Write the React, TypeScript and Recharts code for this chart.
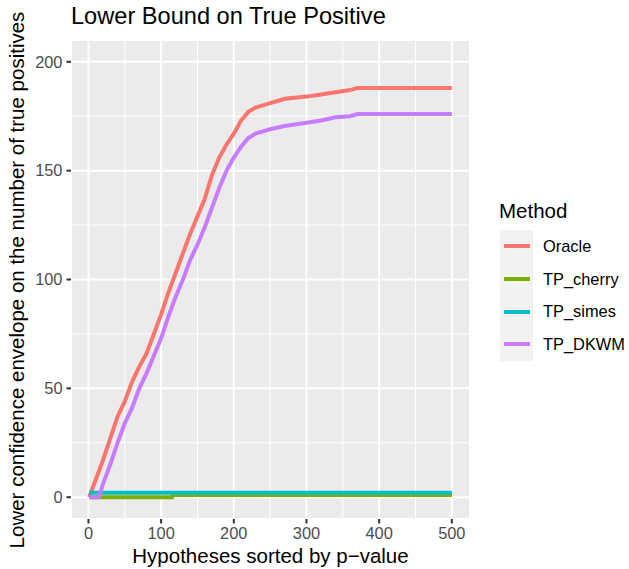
import { LineChart, Line, XAxis, YAxis, CartesianGrid } from 'recharts';

// hypothesis index / lower bound pairs
const oracleX = [1, 10, 20, 30, 40, 50, 60, 70, 80, 90, 100, 110, 120, 130, 140, 150, 160, 170, 180, 190, 200, 210, 220, 230, 240, 250, 260, 270, 300, 320, 340, 360, 370, 500];
const oracleY = [0, 8, 17, 27, 37, 44, 53, 60, 66, 75, 84, 94, 103, 112, 121, 129, 137, 148, 156, 162, 167, 173, 177, 179, 180, 181, 182, 183, 184, 185, 186, 187, 188, 188];

const dkwmX = [1, 14, 20, 30, 40, 50, 60, 70, 80, 90, 100, 110, 120, 130, 140, 150, 160, 170, 180, 190, 200, 210, 220, 230, 250, 270, 300, 320, 340, 360, 370, 500];
const dkwmY = [0, 0, 6, 15, 25, 34, 41, 50, 57, 65, 73, 83, 92, 100, 109, 116, 124, 133, 142, 150, 156, 161, 165, 167, 169, 170.5, 172, 173, 174.5, 175, 176, 176];

const cherryX = [1, 115, 116, 500];
const cherryY = [0, 0, 1, 1];

const simesX = [1, 500];
const simesY = [2, 2];

const xTicks = [0, 100, 200, 300, 400, 500];
const yTicks = [0, 50, 100, 150, 200];
const xMinor = [50, 150, 250, 350, 450];
const yMinor = [25, 75, 125, 175];

const METHODS = ['Oracle', 'TP_cherry', 'TP_simes', 'TP_DKWM'];
const COLORS = ['#F8766D', '#7CAE00', '#00BFC4', '#C77CFF'];

const toPoints = (xs: number[], ys: number[]) => xs.map((x, i) => ({ x, y: ys[i] }));

const series = [
  toPoints(oracleX, oracleY),
  toPoints(cherryX, cherryY),
  toPoints(simesX, simesY),
  toPoints(dkwmX, dkwmY),
];

const FONT = '"Liberation Sans", Arial, Helvetica, sans-serif';

function MethodLegend() {
  return (
    <div style={{ position: 'absolute', left: 500, top: 199, fontFamily: FONT, color: '#000' }}>
      <div style={{ fontSize: 20.5, height: 31, lineHeight: '24px', marginLeft: -1 }}>Method</div>
      {METHODS.map((name, i) => (
        <div key={name} style={{ display: 'flex', alignItems: 'center', height: 32.7 }}>
          <div
            style={{
              width: 33,
              height: 32.7,
              background: '#F2F2F2',
              display: 'flex',
              alignItems: 'center',
              justifyContent: 'center',
            }}
          >
            <div style={{ width: 26, height: 4, background: COLORS[i] }} />
          </div>
          <span style={{ fontSize: 16.4, marginLeft: 10 }}>{name}</span>
        </div>
      ))}
    </div>
  );
}

export default function App() {
  const tick = { fontSize: 16.4, fill: '#4D4D4D', fontFamily: FONT };
  return (
    <div style={{ position: 'absolute', left: 0, top: 0, width: 629, height: 569, background: '#fff' }}>
      <div
        style={{
          position: 'absolute',
          left: 71,
          top: 3,
          fontSize: 23.6,
          fontFamily: FONT,
          color: '#000',
          whiteSpace: 'nowrap',
        }}
      >
        Lower Bound on True Positive
      </div>
      <div
        style={{
          position: 'absolute',
          left: 17,
          top: 280,
          transform: 'translate(-50%, -50%) rotate(-90deg)',
          fontSize: 20.5,
          fontFamily: FONT,
          color: '#000',
          whiteSpace: 'nowrap',
        }}
      >
        Lower confidence envelope on the number of true positives
      </div>
      <div
        style={{
          position: 'absolute',
          left: 270.5,
          top: 556,
          transform: 'translate(-50%, -50%)',
          fontSize: 20.5,
          fontFamily: FONT,
          color: '#000',
          whiteSpace: 'nowrap',
        }}
      >
        Hypotheses sorted by p−value
      </div>
      <MethodLegend />
      <LineChart width={629} height={569} margin={{ top: 40, right: 159, left: 0, bottom: 0 }}>
        <CartesianGrid fill="#EBEBEB" stroke="#FFFFFF" strokeWidth={2} />
        <CartesianGrid
          fill="none"
          stroke="#FFFFFF"
          strokeWidth={1}
          verticalValues={xMinor}
          horizontalValues={yMinor}
        />
        <XAxis
          dataKey="x"
          type="number"
          domain={[-24, 525]}
          ticks={xTicks}
          allowDataOverflow
          height={50}
          axisLine={false}
          tickSize={4.5}
          tickMargin={4}
          tickLine={{ stroke: '#333333', strokeWidth: 2 }}
          tick={tick}
        />
        <YAxis
          type="number"
          domain={[-10, 210]}
          ticks={yTicks}
          allowDataOverflow
          width={71}
          axisLine={false}
          tickSize={4.5}
          tickMargin={4}
          tickLine={{ stroke: '#333333', strokeWidth: 2 }}
          tick={tick}
        />
        {series.map((pts, i) => (
          <Line
            key={METHODS[i]}
            data={pts}
            dataKey="y"
            name={METHODS[i]}
            type="linear"
            stroke={COLORS[i]}
            strokeWidth={4}
            dot={false}
            activeDot={false}
            isAnimationActive={false}
          />
        ))}
      </LineChart>
    </div>
  );
}
